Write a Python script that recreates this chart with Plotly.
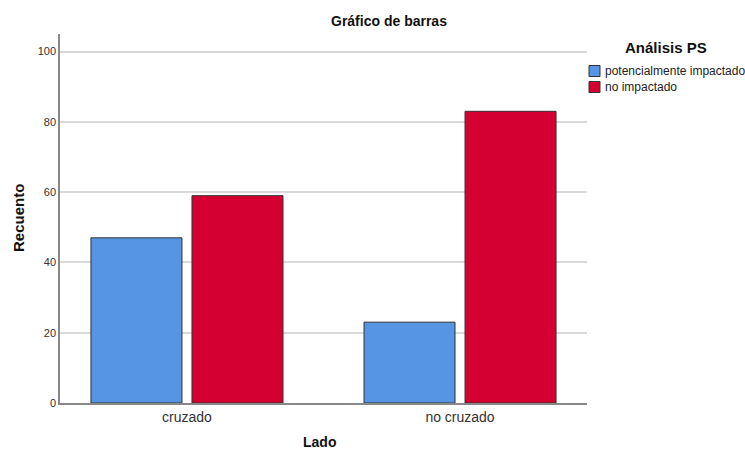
import plotly.graph_objects as go

categories = ["cruzado", "no cruzado"]
series_names = ["potencialmente impactado", "no impactado"]
potencialmente = [47, 23]
no_impactado = [59, 83]
y_ticks = [0, 20, 40, 60, 80, 100]

colors = ["#5595E3", "#D50032"]

L, R, T, B = 60, 587, 34, 403
W, H = 745, 453


def px(xp):
    return (xp - L) / (R - L)


def py(yp):
    return (B - yp) / (B - T)


fig = go.Figure()
for name, vals, col in zip(series_names, [potencialmente, no_impactado], colors):
    fig.add_trace(go.Bar(
        x=categories, y=vals, name=name,
        marker=dict(color=col, line=dict(color="#333333", width=1)),
    ))

shapes = []
annotations = [
    dict(text="<b>Gráfico de barras</b>", x=px(389), y=py(21), xref="paper", yref="paper",
         xanchor="center", yanchor="middle", showarrow=False,
         font=dict(size=14, color="#111111")),
    dict(text="<b>Análisis PS</b>", x=px(666), y=py(48), xref="paper", yref="paper",
         xanchor="center", yanchor="middle", showarrow=False,
         font=dict(size=15, color="#111111")),
    dict(text="<b>Recuento</b>", x=px(18), y=py(218), xref="paper", yref="paper",
         xanchor="center", yanchor="middle", showarrow=False, textangle=-90,
         font=dict(size=15, color="#111111")),
    dict(text="<b>Lado</b>", x=px(319), y=py(452), xref="paper", yref="paper",
         xanchor="center", yanchor="bottom", showarrow=False,
         font=dict(size=14, color="#111111")),
]
for i, (name, col) in enumerate(zip(series_names, colors)):
    cy = 71 + 16 * i
    shapes.append(dict(type="rect", xref="paper", yref="paper",
                       x0=px(589), x1=px(600), y0=py(cy - 5.5), y1=py(cy + 5.5),
                       fillcolor=col, line=dict(color="#333333", width=1)))
    annotations.append(dict(text=name, x=px(603), y=py(cy), xref="paper", yref="paper",
                            xanchor="left", yanchor="middle", showarrow=False,
                            font=dict(size=12, color="#222222")))

fig.update_layout(
    width=W, height=H,
    margin=dict(l=L, r=W - R, t=T, b=H - B),
    paper_bgcolor="white", plot_bgcolor="white",
    barmode="group", bargap=0.26, bargroupgap=0.099,
    font=dict(family="Liberation Sans, Arial, sans-serif", color="#222222"),
    showlegend=False,
    shapes=shapes,
    annotations=annotations,
)

fig.update_xaxes(
    type="category", range=[-0.465, 1.465], automargin=False,
    showline=True, linecolor="#888888", linewidth=1.5,
    ticks="", tickfont=dict(size=14, color="#333333"),
    showgrid=False,
)
fig.update_yaxes(
    range=[0, 105], tickvals=y_ticks, automargin=False,
    showline=True, linecolor="#888888", linewidth=1.5,
    ticks="", tickfont=dict(size=11, color="#333333"),
    showgrid=True, gridcolor="#D9D9D9", gridwidth=1.5,
    zeroline=False,
)

fig.write_html("out.html", config={"displayModeBar": False},
               post_script="document.body.style.margin='0';document.body.style.overflow='hidden';")
